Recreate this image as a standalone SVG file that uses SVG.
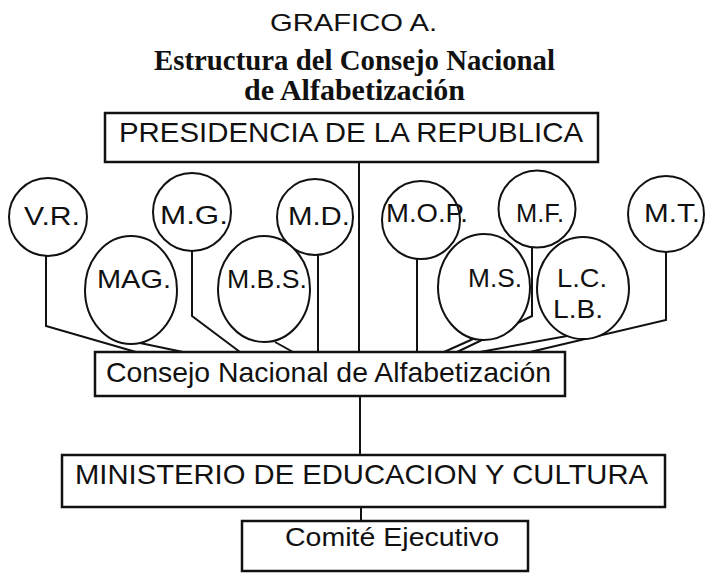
<svg xmlns="http://www.w3.org/2000/svg" width="705" height="573" viewBox="0 0 705 573">
<style>
text{font-family:"Liberation Sans",Arial,sans-serif;fill:#111;}
.t{font-family:"Liberation Serif","Times New Roman",serif;font-weight:bold;font-size:29px;}
.box{fill:#fff;stroke:#111;stroke-width:2.5;}
.c{fill:#fff;stroke:#111;stroke-width:2;}
.lbl{font-size:26px;}
.big{font-size:28px;}
.conn{fill:none;stroke:#111;stroke-width:2;stroke-linejoin:miter;}
</style>
<rect width="705" height="573" fill="#fff"/>
<g id="title">
<text x="270" y="31" font-size="24" textLength="167" lengthAdjust="spacingAndGlyphs">GRAFICO A.</text>
<text class="t" x="154" y="70" textLength="401" lengthAdjust="spacingAndGlyphs">Estructura del Consejo Nacional</text>
<text class="t" x="244" y="100" textLength="221" lengthAdjust="spacingAndGlyphs">de Alfabetización</text>
</g>
<g id="connectors" class="conn">
<line x1="359" y1="162" x2="359" y2="352"/>
<line x1="360" y1="396" x2="360" y2="455"/>
<line x1="361" y1="507" x2="361" y2="521"/>
<polyline points="46,256 46,326 136,352"/>
<polyline points="140,343 183,352"/>
<polyline points="192,251 192,316 240,352"/>
<polyline points="275,342 293,352"/>
<polyline points="318,255 318,352"/>
<polyline points="417,258 417,352"/>
<polyline points="473,339 444,352"/>
<polyline points="532,247 532,316 457,352"/>
<polyline points="567,336 480,352"/>
<polyline points="666,252 666,320 530,352"/>
</g>
<g id="presidencia">
<rect class="box" x="105" y="113" width="493" height="49"/>
<text class="big" x="119" y="142" textLength="464" lengthAdjust="spacingAndGlyphs">PRESIDENCIA DE LA REPUBLICA</text>
</g>
<g id="vr"><circle class="c" cx="48" cy="217" r="39"/><text class="lbl" x="24" y="225" textLength="56" lengthAdjust="spacingAndGlyphs">V.R.</text></g>
<g id="mg"><circle class="c" cx="192" cy="212" r="39"/><text class="lbl" x="160" y="224" textLength="68" lengthAdjust="spacingAndGlyphs">M.G.</text></g>
<g id="md"><circle class="c" cx="315" cy="217" r="38"/><text class="lbl" x="288" y="225" textLength="62" lengthAdjust="spacingAndGlyphs">M.D.</text></g>
<g id="mop"><circle class="c" cx="421" cy="220" r="39"/><text class="lbl" x="386" y="222" textLength="82" lengthAdjust="spacingAndGlyphs">M.O.P.</text></g>
<g id="mf"><circle class="c" cx="537" cy="209" r="38.5"/><text class="lbl" x="516" y="222" textLength="48" lengthAdjust="spacingAndGlyphs">M.F.</text></g>
<g id="mt"><circle class="c" cx="666" cy="214" r="38"/><text class="lbl" x="644" y="222" textLength="56" lengthAdjust="spacingAndGlyphs">M.T.</text></g>
<g id="mag"><ellipse class="c" cx="131" cy="290" rx="46" ry="54"/><text class="lbl" x="97" y="288" textLength="74" lengthAdjust="spacingAndGlyphs">MAG.</text></g>
<g id="mbs"><ellipse class="c" cx="264" cy="289" rx="46" ry="53"/><text class="lbl" x="227" y="288" textLength="80" lengthAdjust="spacingAndGlyphs">M.B.S.</text></g>
<g id="ms"><ellipse class="c" cx="484" cy="287" rx="46" ry="53"/><text class="lbl" x="468" y="287" textLength="54" lengthAdjust="spacingAndGlyphs">M.S.</text></g>
<g id="lclb"><ellipse class="c" cx="583" cy="288" rx="46" ry="51"/><text class="lbl" x="557" y="287" textLength="50" lengthAdjust="spacingAndGlyphs">L.C.</text><text class="lbl" x="553" y="318" textLength="50" lengthAdjust="spacingAndGlyphs">L.B.</text></g>
<g id="consejo">
<rect class="box" x="95" y="352" width="470" height="44"/>
<text class="big" x="106" y="382" font-size="27" textLength="445" lengthAdjust="spacingAndGlyphs">Consejo Nacional de Alfabetización</text>
</g>
<g id="ministerio">
<rect class="box" x="62" y="455" width="603" height="52"/>
<text class="big" x="75" y="484" textLength="573" lengthAdjust="spacingAndGlyphs">MINISTERIO DE EDUCACION Y CULTURA</text>
</g>
<g id="comite">
<rect class="box" x="242" y="521" width="286" height="50"/>
<text x="285" y="546" font-size="25" textLength="214" lengthAdjust="spacingAndGlyphs">Comité Ejecutivo</text>
</g>
</svg>
